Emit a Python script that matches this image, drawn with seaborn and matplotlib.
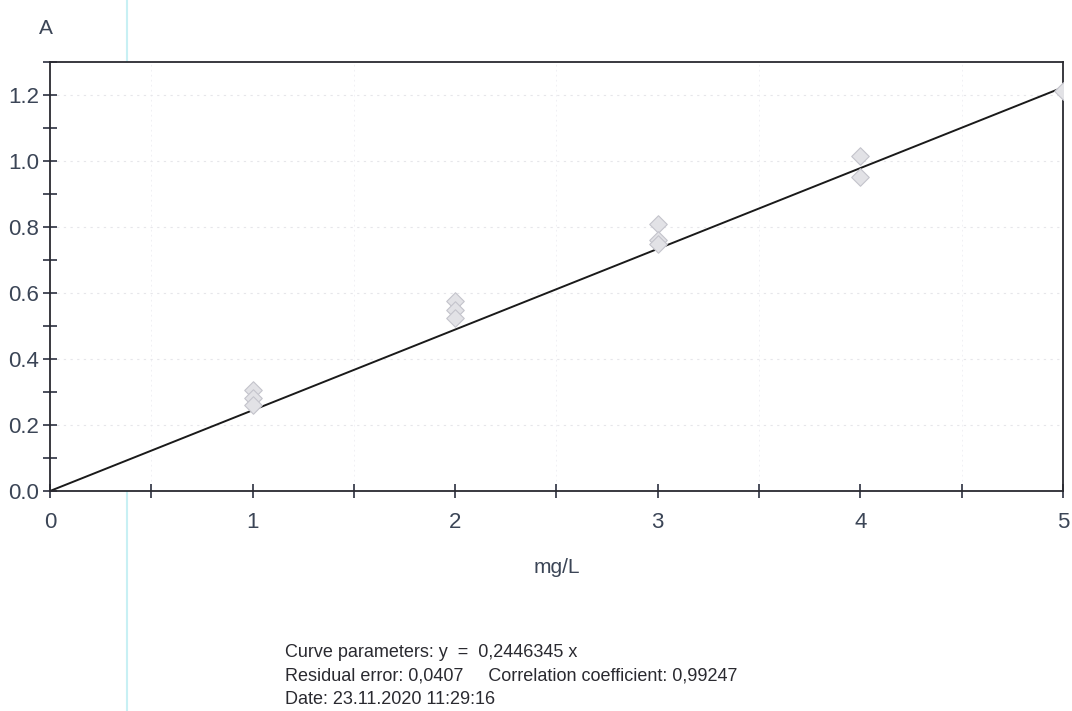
import numpy as np
import pandas as pd
import matplotlib
matplotlib.use("Agg")
import matplotlib.pyplot as plt
import seaborn as sns
from matplotlib.ticker import MultipleLocator

# calibration points
conc = [1, 1, 1, 2, 2, 2, 3, 3, 3, 4, 4, 5]
absorb = [0.305, 0.282, 0.262, 0.575, 0.548, 0.525, 0.81, 0.762, 0.748, 1.015, 0.952, 1.213]
slope = 0.2446345
fit_x = [0, 5]
ytick_vals = [0.0, 0.2, 0.4, 0.6, 0.8, 1.0, 1.2]

sns.set_theme(style="white")
plt.rcParams['font.family'] = ['Liberation Sans', 'DejaVu Sans']

df = pd.DataFrame({"mg/L": conc, "A": absorb})
fit = pd.DataFrame({"mg/L": fit_x, "A": [slope * v for v in fit_x]})

fig = plt.figure(figsize=(10.72, 7.11), dpi=100)
ax = fig.add_axes([0.0466, 0.3094, 0.945, 0.6034])

txt = '#3b4556'
sns.lineplot(data=fit, x="mg/L", y="A", color='#1a1a1a', linewidth=1.4, ax=ax)
sns.scatterplot(data=df, x="mg/L", y="A", marker='D', s=80, color='#e2e2e6',
                edgecolor='#c4c4cc', linewidth=0.8, ax=ax, zorder=3)

ax.set_xlim(0, 5)
ax.set_ylim(0, 1.3)
ax.xaxis.set_major_locator(MultipleLocator(1))
ax.xaxis.set_minor_locator(MultipleLocator(0.5))
ax.set_yticks(ytick_vals)
ax.set_yticklabels([f"{v:.1f}" for v in ytick_vals])
ax.yaxis.set_minor_locator(MultipleLocator(0.1))
ax.tick_params(which='both', direction='inout', length=10, width=1.2, color='#2c3040',
               labelsize=16, labelcolor=txt, left=True, bottom=True)
ax.tick_params(axis='x', pad=10)
ax.tick_params(axis='y', pad=3)

ax.grid(True, which='major', axis='y', color='#e6e6ea', linestyle=(0, (2, 4)), linewidth=0.8)
ax.grid(True, which='minor', axis='x', color='#eeeef2', linestyle=(0, (2, 4)), linewidth=0.6)

for side in ['top', 'right', 'left', 'bottom']:
    ax.spines[side].set_visible(True)
    ax.spines[side].set_color('#2a2a30')
    ax.spines[side].set_linewidth(1.3)

ax.set_xlabel("mg/L", fontsize=15, color=txt, labelpad=18)
ax.set_ylabel("")
fig.text(0.036, 0.952, "A", fontsize=15, color=txt)

info = ["Curve parameters: y  =  0,2446345 x",
        "Residual error: 0,0407     Correlation coefficient: 0,99247",
        "Date: 23.11.2020 11:29:16"]
for i, line in enumerate(info):
    fig.text(0.266, 0.070 - i * 0.033, line, fontsize=13, color='#2a2a30', va='bottom')

# scanner streak
fig.add_artist(plt.Line2D([0.1185, 0.1185], [0, 1], transform=fig.transFigure,
                          color='#c8f0f4', linewidth=1.5, zorder=0))

fig.savefig("out.png", dpi=100)
